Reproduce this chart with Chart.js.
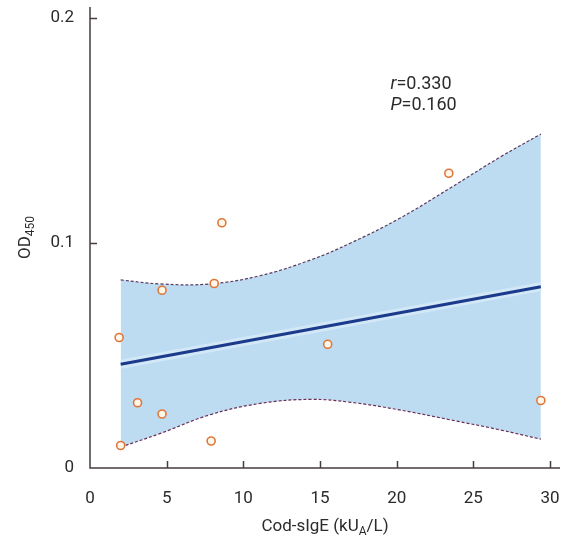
<!DOCTYPE html>
<html>
<head>
<meta charset="utf-8">
<script src="https://cdn.jsdelivr.net/npm/chart.js@4.4.1/dist/chart.umd.min.js"></script>
<style>
  html, body { margin: 0; padding: 0; background: #fff; }
</style>
</head>
<body>
<canvas id="myChart" width="568" height="544"></canvas>
<script>
// observed points (Cod-sIgE vs OD450)
const pointX = [2.0, 1.9, 3.1, 4.7, 4.7, 8.1, 8.6, 7.9, 15.5, 23.4, 29.4];
const pointY = [0.010, 0.058, 0.029, 0.024, 0.079, 0.082, 0.109, 0.012, 0.055, 0.131, 0.030];

// regression line ends
const fitX = [2.0, 29.4];
const fitY = [0.0461, 0.0806];

// confidence band
const bandX = [2.0, 4.6, 7.8, 11.1, 14.4, 17.0, 20.2, 23.5, 26.7, 29.4];
const bandUpper = [0.0836, 0.0818, 0.0818, 0.0855, 0.0925, 0.1000, 0.1110, 0.1245, 0.1380, 0.1484];
const bandLower = [0.0093, 0.0154, 0.0236, 0.0287, 0.0305, 0.0292, 0.0258, 0.0214, 0.0170, 0.0128];

// axes
const xTicks = [0, 5, 10, 15, 20, 25, 30];
const yTicks = [0, 0.1, 0.2];
const xMax = 30.65;
const yMax = 0.2049;

const FONT = 'Roboto, "Noto Sans", sans-serif';
const TEXT = '#2b2b2b';

const toXY = (xs, ys) => xs.map((v, i) => ({ x: v, y: ys[i] }));

// draws a string made of [text, isSub, isItalic] parts
const drawParts = (ctx, parts, x, y, size, align) => {
  const fontFor = (p) => `${p[2] ? 'italic ' : ''}${p[1] ? Math.round(size * 0.7) : size}px ${FONT}`;
  let total = 0;
  parts.forEach(p => { ctx.font = fontFor(p); total += ctx.measureText(p[0]).width; });
  let cx = align === 'center' ? x - total / 2 : x;
  ctx.textAlign = 'left';
  ctx.textBaseline = 'alphabetic';
  parts.forEach(p => {
    ctx.font = fontFor(p);
    ctx.fillText(p[0], cx, p[1] ? y + size * 0.22 : y);
    cx += ctx.measureText(p[0]).width;
  });
};

const axesPlugin = {
  id: 'axesPlugin',
  afterDraw(chart) {
    const { ctx, chartArea: a, scales: { x, y } } = chart;
    ctx.save();
    ctx.strokeStyle = '#463c41';
    ctx.lineWidth = 1.5;
    ctx.beginPath();
    ctx.moveTo(a.left, a.top);
    ctx.lineTo(a.left, a.bottom);
    ctx.lineTo(a.right, a.bottom);
    // inward ticks
    xTicks.forEach(v => {
      if (v === 0) return;
      const px = Math.round(x.getPixelForValue(v)) + 0.5;
      ctx.moveTo(px, a.bottom);
      ctx.lineTo(px, a.bottom - 7);
    });
    yTicks.forEach(v => {
      if (v === 0) return;
      const py = Math.round(y.getPixelForValue(v)) + 0.5;
      ctx.moveTo(a.left, py);
      ctx.lineTo(a.left + 7, py);
    });
    ctx.stroke();

    ctx.fillStyle = TEXT;
    // x title
    drawParts(ctx, [['Cod-sIgE (kU', false], ['A', true], ['/L)', false]],
      (a.left + a.right) / 2, 531, 17, 'center');
    // y title
    ctx.save();
    ctx.translate(30, (a.top + a.bottom) / 2);
    ctx.rotate(-Math.PI / 2);
    drawParts(ctx, [['OD', false], ['450', true]], 0, 0, 17, 'center');
    ctx.restore();

    // statistics
    const sx = x.getPixelForValue(19.6);
    drawParts(ctx, [['r', false, true], ['=0.330', false]], sx, y.getPixelForValue(0.1684), 18, 'left');
    drawParts(ctx, [['P', false, true], ['=0.160', false]], sx, y.getPixelForValue(0.1591), 18, 'left');
    ctx.restore();
  }
};

const noPad = (scale) => {
  scale.paddingLeft = 0;
  scale.paddingRight = 0;
  scale.paddingTop = 0;
  scale.paddingBottom = 0;
};

const ctx = document.getElementById('myChart').getContext('2d');
new Chart(ctx, {
  type: 'scatter',
  data: {
    datasets: [
      {
        label: 'points',
        data: toXY(pointX, pointY),
        pointRadius: 4,
        pointBorderWidth: 1.6,
        pointBorderColor: '#e0773a',
        pointBackgroundColor: '#fff8ea',
        showLine: false,
      },
      {
        label: 'fit',
        data: toXY(fitX, fitY),
        showLine: true,
        borderColor: '#1b3a8c',
        borderWidth: 3,
        pointRadius: 0,
      },
      {
        label: 'fit halo',
        data: toXY(fitX, fitY),
        showLine: true,
        borderColor: 'rgba(220,237,249,0.7)',
        borderWidth: 9,
        pointRadius: 0,
      },
      {
        label: 'upper',
        data: toXY(bandX, bandUpper),
        showLine: true,
        borderColor: '#5b3a5e',
        borderWidth: 1.2,
        borderDash: [3, 2],
        pointRadius: 0,
        tension: 0.4,
        fill: '+1',
        backgroundColor: '#bddcf1',
      },
      {
        label: 'lower',
        data: toXY(bandX, bandLower),
        showLine: true,
        borderColor: '#6b2e55',
        borderWidth: 1.2,
        borderDash: [3, 2],
        pointRadius: 0,
        tension: 0.4,
      },
    ],
  },
  options: {
    responsive: false,
    animation: false,
    layout: { padding: { top: 7, right: 8, left: 0, bottom: 0 } },
    plugins: {
      legend: { display: false },
      tooltip: { enabled: false },
      filler: { drawTime: 'beforeDatasetsDraw' },
    },
    scales: {
      x: {
        type: 'linear',
        min: 0,
        max: xMax,
        afterBuildTicks: (scale) => { scale.ticks = xTicks.map(v => ({ value: v })); },
        afterFit: (scale) => { scale.height = 76; noPad(scale); },
        grid: { display: false, drawTicks: false },
        border: { display: false },
        ticks: {
          padding: 21,
          color: TEXT,
          font: { family: FONT, size: 17 },
          callback: (v) => String(v),
        },
      },
      y: {
        type: 'linear',
        min: 0,
        max: yMax,
        afterBuildTicks: (scale) => { scale.ticks = yTicks.map(v => ({ value: v })); },
        afterFit: (scale) => { scale.width = 90; noPad(scale); },
        grid: { display: false, drawTicks: false },
        border: { display: false },
        ticks: {
          padding: 16,
          color: TEXT,
          font: { family: FONT, size: 17 },
          callback: (v) => (v === 0 ? '0' : v.toFixed(1)),
        },
      },
    },
  },
  plugins: [axesPlugin],
});
</script>
</body>
</html>
